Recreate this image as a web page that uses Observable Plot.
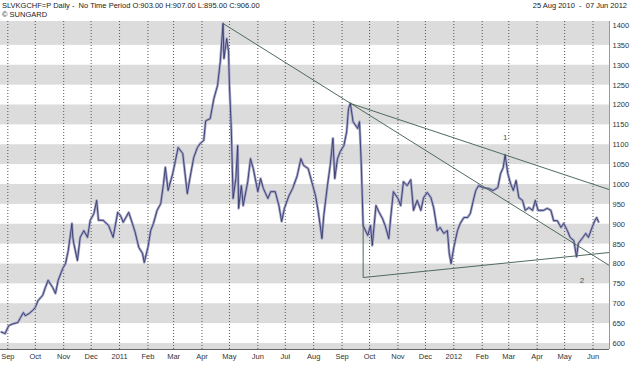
<!DOCTYPE html>
<html><head><meta charset="utf-8">
<script src="https://cdn.jsdelivr.net/npm/d3@7"></script>
<script src="https://cdn.jsdelivr.net/npm/@observablehq/plot@0.6"></script>
<style>
body{margin:0;background:#fff;}
#wrap{position:relative;width:630px;height:365px;font-family:"Liberation Sans",Arial,sans-serif;}
.hdr{position:absolute;font-size:7.5px;color:#222;white-space:pre;line-height:9px;}
</style></head><body><div id="wrap">
<div class="hdr" style="left:2px;top:1px">SLVKGCHF=P Daily -  No Time Period O:903.00 H:907.00 L:895.00 C:906.00</div>
<div class="hdr" style="left:2px;top:10px">© SUNGARD</div>
<div class="hdr" style="right:3px;top:1px">25 Aug 2010  -  07 Jun 2012</div>
<div id="chart" style="position:absolute;left:0;top:0"></div>
</div>
<script>
const seriesDates = [
"2010-08-25","2010-08-29","2010-09-02","2010-09-07","2010-09-12","2010-09-15","2010-09-18","2010-09-20","2010-09-24","2010-09-28",
"2010-10-01","2010-10-04","2010-10-09","2010-10-12","2010-10-15","2010-10-20","2010-10-23","2010-10-26","2010-10-31","2010-11-03",
"2010-11-06","2010-11-10","2010-11-11","2010-11-12","2010-11-16","2010-11-19","2010-11-23","2010-11-27","2010-11-30","2010-12-04",
"2010-12-07","2010-12-09","2010-12-14","2010-12-20","2010-12-25","2010-12-30","2011-01-02","2011-01-05","2011-01-11","2011-01-15",
"2011-01-18","2011-01-22","2011-01-26","2011-01-28","2011-02-01","2011-02-04","2011-02-07","2011-02-11","2011-02-15","2011-02-18",
"2011-02-20","2011-02-23","2011-02-28","2011-03-03","2011-03-06","2011-03-11","2011-03-14","2011-03-16","2011-03-19","2011-03-23",
"2011-03-27","2011-03-30","2011-04-03","2011-04-05","2011-04-10","2011-04-14","2011-04-18","2011-04-21","2011-04-24","2011-04-25",
"2011-04-28","2011-04-30","2011-05-01","2011-05-03","2011-05-05","2011-05-08","2011-05-10","2011-05-11","2011-05-14","2011-05-16",
"2011-05-21","2011-05-24","2011-05-27","2011-06-01","2011-06-04","2011-06-07","2011-06-12","2011-06-15","2011-06-20","2011-06-24",
"2011-06-27","2011-06-30","2011-07-05","2011-07-09","2011-07-14","2011-07-18","2011-07-21","2011-07-26","2011-07-31","2011-08-03",
"2011-08-06","2011-08-10","2011-08-12","2011-08-16","2011-08-19","2011-08-22","2011-08-24","2011-08-27","2011-08-30","2011-09-03",
"2011-09-06","2011-09-08","2011-09-10","2011-09-13","2011-09-18","2011-09-20","2011-09-22","2011-09-24","2011-09-29","2011-10-02",
"2011-10-04","2011-10-08","2011-10-11","2011-10-15","2011-10-18","2011-10-22","2011-10-24","2011-10-27","2011-11-01","2011-11-04",
"2011-11-07","2011-11-11","2011-11-15","2011-11-18","2011-11-22","2011-11-26","2011-11-29","2011-12-03","2011-12-07","2011-12-10",
"2011-12-14","2011-12-17","2011-12-21","2011-12-25","2011-12-27","2011-12-29","2012-01-01","2012-01-05","2012-01-08","2012-01-12",
"2012-01-16","2012-01-19","2012-01-23","2012-01-25","2012-01-28","2012-02-02","2012-02-08","2012-02-13","2012-02-18","2012-02-21",
"2012-02-24","2012-02-26","2012-02-29","2012-03-03","2012-03-06","2012-03-09","2012-03-12","2012-03-16","2012-03-19","2012-03-23",
"2012-03-27","2012-03-30","2012-04-02","2012-04-08","2012-04-12","2012-04-16","2012-04-19","2012-04-23","2012-04-27","2012-04-30",
"2012-05-04","2012-05-07","2012-05-11","2012-05-14","2012-05-16","2012-05-21","2012-05-24","2012-05-27","2012-05-31","2012-06-03",
"2012-06-05","2012-06-07"];
const seriesValues = [
629,625,645,650,653,666,678,670,675,683,
691,708,721,741,759,741,726,759,789,801,
834,902,867,852,809,867,884,867,910,927,
960,910,910,897,867,930,922,905,930,902,
880,842,827,804,842,884,902,935,952,1002,
1043,985,1027,1060,1093,1078,1018,977,1018,1068,
1093,1103,1111,1160,1166,1216,1249,1309,1405,1317,
1367,1335,1249,1141,965,1015,1098,940,997,947,
1007,1065,1040,982,1015,990,965,982,982,947,
907,940,972,990,1022,1065,1048,1040,997,972,
932,864,922,997,1048,1116,1015,1065,1083,1098,
1133,1191,1204,1158,1141,1158,1048,897,872,897,
847,947,932,915,897,864,915,982,965,947,
1007,997,1012,935,960,935,967,980,967,942,
884,892,877,884,827,801,842,884,902,917,
917,927,967,985,997,992,990,985,992,1027,
1043,1075,1027,1002,985,1010,967,960,935,942,
935,960,935,935,940,935,909,909,892,902,
884,867,859,818,852,867,877,867,892,909,
917,906];

const trendA = [["2011-04-24",1405],["2012-06-19",796]];
const trendB = [["2011-09-10",1204],["2012-06-19",987]];
const trendC = [["2011-09-24",900],["2011-09-24",766],["2012-06-19",829]];

const bandLo = [550,650,750,850,950,1050,1150,1250,1350];
const bandHi = [600,700,800,900,1000,1100,1200,1300,1450];

const yTicks = [600,650,700,750,800,850,900,950,1000,1050,1100,1150,1200,1250,1300,1350,1400];
const monthTicks = ["2010-09-01","2010-10-01","2010-11-01","2010-12-01","2011-01-01","2011-02-01","2011-03-01","2011-04-01","2011-05-01","2011-06-01","2011-07-01","2011-08-01","2011-09-01","2011-10-01","2011-11-01","2011-12-01","2012-01-01","2012-02-01","2012-03-01","2012-04-01","2012-05-01","2012-06-01"];

const waveLabels = [{d:"2012-02-26",v:1118,t:"1"},{d:"2012-05-20",v:758,t:"2"}];

const xStart = new Date("2010-08-24"), xEnd = new Date("2012-06-19");
const series = seriesDates.map((d,i)=>({date:new Date(d), value:seriesValues[i]}));
const toPts = a => a.map(([d,v])=>({date:new Date(d), value:v}));
const bands = bandLo.map((lo,i)=>({lo, hi:bandHi[i]}));
const mt = monthTicks.map(d=>new Date(d));
const fmtMon = d3.utcFormat("%b");

const chart = Plot.plot({
  width:630, height:365,
  marginTop:21, marginBottom:16, marginLeft:0, marginRight:21,
  style:{fontFamily:"Liberation Sans, Arial, sans-serif", fontSize:"7.5px", color:"#333", background:"transparent", overflow:"visible"},
  x:{type:"utc", domain:[xStart,xEnd]},
  y:{domain:[585,1410]},
  marks:[
    Plot.rect(bands,{x1:()=>xStart, x2:()=>xEnd, y1:"lo", y2:"hi", fill:"#dcdcdc", clip:true}),
    Plot.ruleX(mt,{stroke:"#555", strokeDasharray:"1,2", strokeWidth:1}),
    Plot.line(series,{x:"date", y:"value", stroke:"#a6a6c6", strokeWidth:2.6}),
    Plot.line(series,{x:"date", y:"value", stroke:"#343a6e", strokeWidth:0.9}),
    Plot.line(toPts(trendA),{x:"date", y:"value", stroke:"#4f6a5e", strokeWidth:1}),
    Plot.line(toPts(trendB),{x:"date", y:"value", stroke:"#4f6a5e", strokeWidth:1}),
    Plot.line(toPts(trendC),{x:"date", y:"value", stroke:"#4f6a5e", strokeWidth:1}),
    Plot.text(waveLabels,{x:d=>new Date(d.d), y:"v", text:"t", fill:"#555", fontSize:8}),
    Plot.ruleX([xEnd],{stroke:"#999"}),
    Plot.ruleY([585],{stroke:"#666"}),
    Plot.axisY({anchor:"right", ticks:yTicks, tickSize:0, tickPadding:3, label:null, tickFormat:d=>String(d)}),
    Plot.axisX({ticks:mt, tickSize:0, tickPadding:4, label:null, tickFormat:d=>d.getUTCMonth()===0?String(d.getUTCFullYear()):fmtMon(d)})
  ]
});
document.getElementById("chart").appendChild(chart);
</script>
</body></html>
